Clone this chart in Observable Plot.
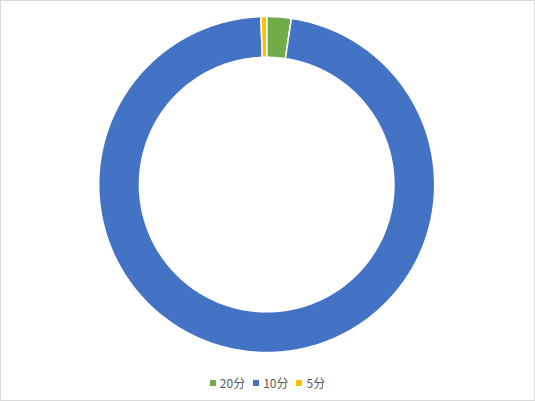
<!DOCTYPE html>
<html>
<head>
<meta charset="utf-8">
<script src="https://cdn.jsdelivr.net/npm/d3@7"></script>
<script src="https://cdn.jsdelivr.net/npm/@observablehq/plot@0.6"></script>
<style>
  html, body { margin: 0; padding: 0; background: #fff; }
  #frame { position: relative; width: 533px; height: 399px; border: 1px solid #d9d9d9; overflow: hidden; background: #fff; }
  #chart { position: absolute; left: -1px; top: -1px; }
  #legend { position: absolute; left: 0; right: 0; top: 373px; display: flex; justify-content: center; align-items: center;
            font-family: "Noto Sans CJK SC", "Microsoft YaHei", sans-serif; font-size: 12px; color: #595959; }
  .item { display: flex; align-items: center; margin: 0 4px; }
  .sw { width: 6px; height: 6px; margin-right: 4px; }
</style>
</head>
<body>
<div id="frame">
  <div id="chart"></div>
  <div id="legend"></div>
</div>
<script>
const categories = ["20分", "10分", "5分"];
const values = [2.35, 97.1, 0.55];
const colors = ["#70AD47", "#4472C4", "#FFC000"];

const innerRatio = 127.5 / 168.3;

// derive slice outlines from the data (angles from d3.pie), in unit coordinates
const pie = d3.pie().sort(null).value(d => d.value)(categories.map((c, i) => ({category: c, value: values[i]})));
const pts = [];
for (const s of pie) {
  const n = Math.max(4, Math.ceil((s.endAngle - s.startAngle) / 0.01));
  const ring = [];
  for (let k = 0; k <= n; k++) {
    const a = s.startAngle + (s.endAngle - s.startAngle) * k / n;
    ring.push({category: s.data.category, x: Math.sin(a), y: Math.cos(a)});
  }
  for (let k = n; k >= 0; k--) {
    const a = s.startAngle + (s.endAngle - s.startAngle) * k / n;
    ring.push({category: s.data.category, x: innerRatio * Math.sin(a), y: innerRatio * Math.cos(a)});
  }
  ring.push(ring[0]);
  pts.push(...ring);
}

const W = 535, H = 366;
const cx = 266.7, cy = 184.4, R = 168.3;
const chart = Plot.plot({
  width: W,
  height: H,
  marginLeft: cx - R,
  marginRight: W - (cx + R),
  marginTop: cy - R,
  marginBottom: H - (cy + R),
  x: {domain: [-1, 1], axis: null},
  y: {domain: [-1, 1], axis: null},
  color: {domain: categories, range: colors},
  style: {background: "transparent"},
  marks: [
    Plot.line(pts, {x: "x", y: "y", z: "category", fill: "category", stroke: "#fff", strokeWidth: 1.5, curve: "linear-closed"})
  ]
});
document.getElementById("chart").appendChild(chart);

const legend = document.getElementById("legend");
categories.forEach((c, i) => {
  const it = document.createElement("div");
  it.className = "item";
  const sw = document.createElement("span");
  sw.className = "sw";
  sw.style.background = colors[i];
  const t = document.createElement("span");
  t.textContent = c;
  it.appendChild(sw); it.appendChild(t);
  legend.appendChild(it);
});
</script>
</body>
</html>
